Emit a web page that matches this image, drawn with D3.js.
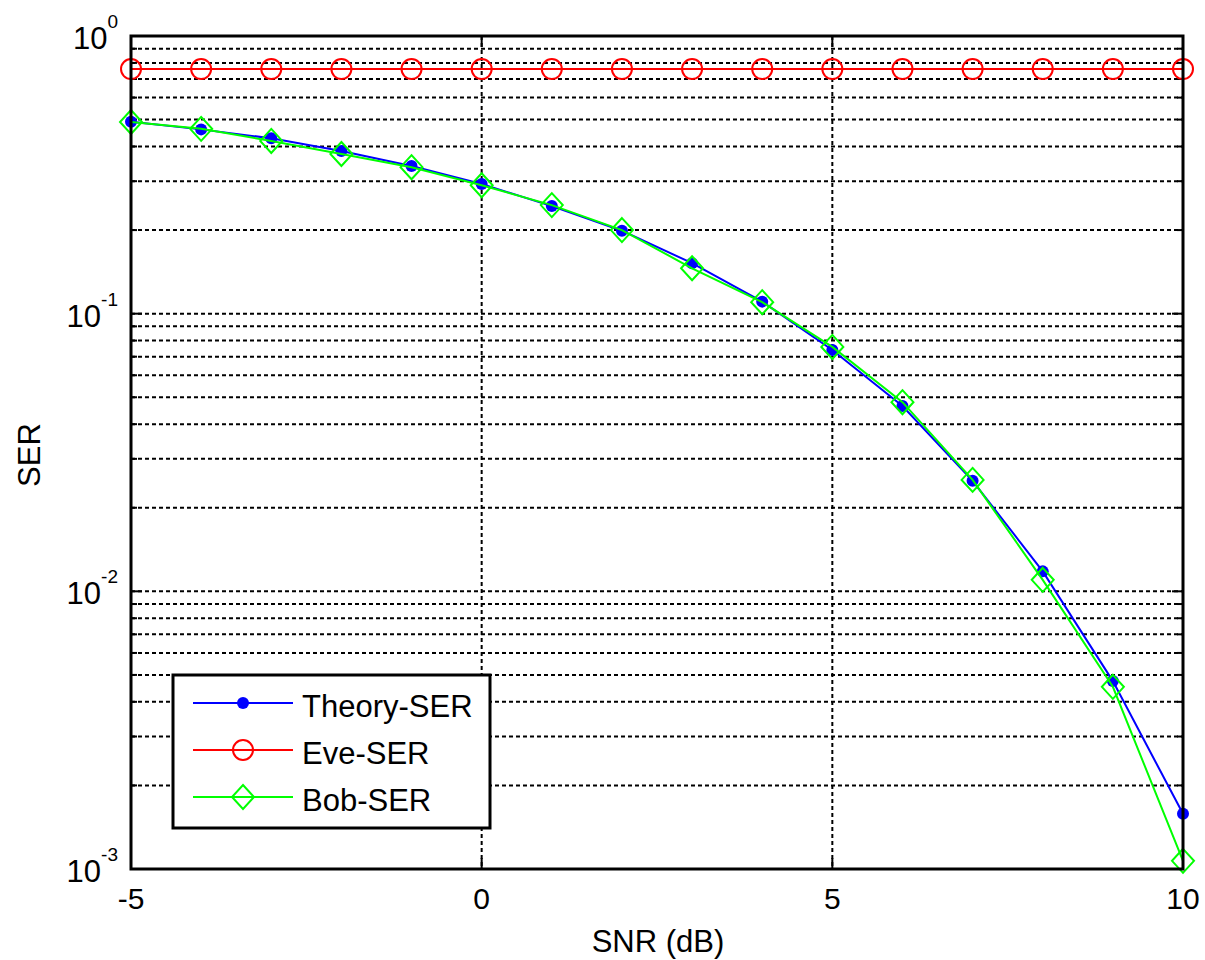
<!DOCTYPE html>
<html>
<head>
<meta charset="utf-8">
<script src="https://cdn.jsdelivr.net/npm/d3@7"></script>
<style>
  body { margin: 0; background: #fff; }
  text { font-family: Arial, "Liberation Sans", sans-serif; fill: #000; }
</style>
</head>
<body>
<div id="chart"></div>
<script>
// SNR points (dB)
const snr = [-5, -4, -3, -2, -1, 0, 1, 2, 3, 4, 5, 6, 7, 8, 9, 10];
// SER series
const theorySER = [0.491, 0.461, 0.428, 0.385, 0.340, 0.293, 0.244, 0.199, 0.152, 0.1105, 0.074, 0.0465, 0.025, 0.0118, 0.00475, 0.00158];
const eveSER = [0.76, 0.76, 0.76, 0.76, 0.76, 0.76, 0.76, 0.76, 0.76, 0.76, 0.76, 0.76, 0.76, 0.76, 0.76, 0.76];
const bobSER = [0.49, 0.463, 0.419, 0.376, 0.337, 0.29, 0.246, 0.2, 0.1457, 0.110, 0.0759, 0.048, 0.0252, 0.011, 0.00453, 0.00107];
const xTicks = [-5, 0, 5, 10];
const yExps = [0, -1, -2, -3];
const legendNames = ["Theory-SER", "Eve-SER", "Bob-SER"];

const W = 1205, H = 960;
const margin = { top: 36, right: 22, bottom: 91, left: 131 };
const width = W - margin.left - margin.right;
const height = H - margin.top - margin.bottom;

const svg = d3.select("#chart").append("svg")
    .attr("width", W).attr("height", H);
const g = svg.append("g").attr("transform", "translate(" + margin.left + "," + margin.top + ")");

const x = d3.scaleLinear().domain([-5, 10]).range([0, width]);
const y = d3.scaleLog().domain([1e-3, 1]).range([height, 0]);

// minor values for grid (2..9 per decade)
let minors = [];
for (let e = -3; e < 0; e++) {
    for (let m = 2; m <= 9; m++) minors.push(m * Math.pow(10, e));
}
const majors = yExps.map(e => Math.pow(10, e));

// grid
const grid = g.append("g").attr("stroke", "#000").attr("stroke-width", 2).attr("stroke-dasharray", "4,3");
grid.selectAll(".hy").data(minors.concat(majors.slice(1, 3)))
    .enter().append("line")
    .attr("x1", 0).attr("x2", width)
    .attr("y1", d => y(d)).attr("y2", d => y(d));
grid.selectAll(".vx").data(xTicks.slice(1, 3))
    .enter().append("line")
    .attr("y1", 0).attr("y2", height)
    .attr("x1", d => x(d)).attr("x2", d => x(d));

// ticks on all sides
const ticks = g.append("g").attr("stroke", "#000").attr("stroke-width", 2);
majors.forEach(v => {
    ticks.append("line").attr("x1", 0).attr("x2", 11).attr("y1", y(v)).attr("y2", y(v));
    ticks.append("line").attr("x1", width).attr("x2", width - 11).attr("y1", y(v)).attr("y2", y(v));
});
minors.forEach(v => {
    ticks.append("line").attr("x1", 0).attr("x2", 6).attr("y1", y(v)).attr("y2", y(v));
    ticks.append("line").attr("x1", width).attr("x2", width - 6).attr("y1", y(v)).attr("y2", y(v));
});
xTicks.forEach(v => {
    ticks.append("line").attr("x1", x(v)).attr("x2", x(v)).attr("y1", height).attr("y2", height - 11);
    ticks.append("line").attr("x1", x(v)).attr("x2", x(v)).attr("y1", 0).attr("y2", 11);
});

// lines
const line = d3.line().x((d, i) => x(snr[i])).y(d => y(d));
const series = [
    { vals: theorySER, color: "#0000ff", marker: "dot" },
    { vals: eveSER, color: "#ff0000", marker: "circle" },
    { vals: bobSER, color: "#00ff00", marker: "diamond" }
];

function drawMarker(sel, type, color) {
    if (type === "dot") {
        sel.append("circle").attr("r", 6).attr("fill", color);
    } else if (type === "circle") {
        sel.append("circle").attr("r", 10).attr("fill", "none").attr("stroke", color).attr("stroke-width", 2);
    } else {
        sel.append("path").attr("d", "M0,-12L11,0L0,12L-11,0Z")
            .attr("fill", "none").attr("stroke", color).attr("stroke-width", 2);
    }
}

series.forEach(s => {
    g.append("path").datum(s.vals)
        .attr("fill", "none").attr("stroke", s.color).attr("stroke-width", 2)
        .attr("d", line);
    s.vals.forEach((v, i) => {
        const m = g.append("g").attr("transform", "translate(" + x(snr[i]) + "," + y(v) + ")");
        drawMarker(m, s.marker, s.color);
    });
});

// axes box
g.append("rect").attr("width", width).attr("height", height)
    .attr("fill", "none").attr("stroke", "#000").attr("stroke-width", 3);

// tick labels
g.selectAll(".xl").data(xTicks).enter().append("text")
    .attr("x", d => x(d)).attr("y", height + 40)
    .attr("text-anchor", "middle").attr("font-size", 30)
    .text(d => d);

yExps.forEach(e => {
    const t = g.append("text").attr("x", -13).attr("y", y(Math.pow(10, e)) + 13)
        .attr("text-anchor", "end").attr("font-size", 31);
    t.append("tspan").text("10");
    t.append("tspan").attr("font-size", 19).attr("dy", -21).text(e);
});

// axis labels
svg.append("text").attr("x", margin.left + width / 2 + 1).attr("y", 952)
    .attr("text-anchor", "middle").attr("font-size", 31).text("SNR (dB)");
svg.append("text").attr("transform", "translate(40,455) rotate(-90)")
    .attr("text-anchor", "middle").attr("font-size", 31).text("SER");

// legend
const lg = svg.append("g").attr("transform", "translate(173,675)");
lg.append("rect").attr("width", 317).attr("height", 153)
    .attr("fill", "#fff").attr("stroke", "#000").attr("stroke-width", 3);
legendNames.forEach((name, i) => {
    const ly = 28 + i * 47;
    const s = series[i];
    lg.append("line").attr("x1", 20).attr("x2", 120).attr("y1", ly).attr("y2", ly)
        .attr("stroke", s.color).attr("stroke-width", 2);
    drawMarker(lg.append("g").attr("transform", "translate(70," + ly + ")"), s.marker, s.color);
    lg.append("text").attr("x", 129).attr("y", ly + 14).attr("font-size", 31).text(name);
});
</script>
</body>
</html>
